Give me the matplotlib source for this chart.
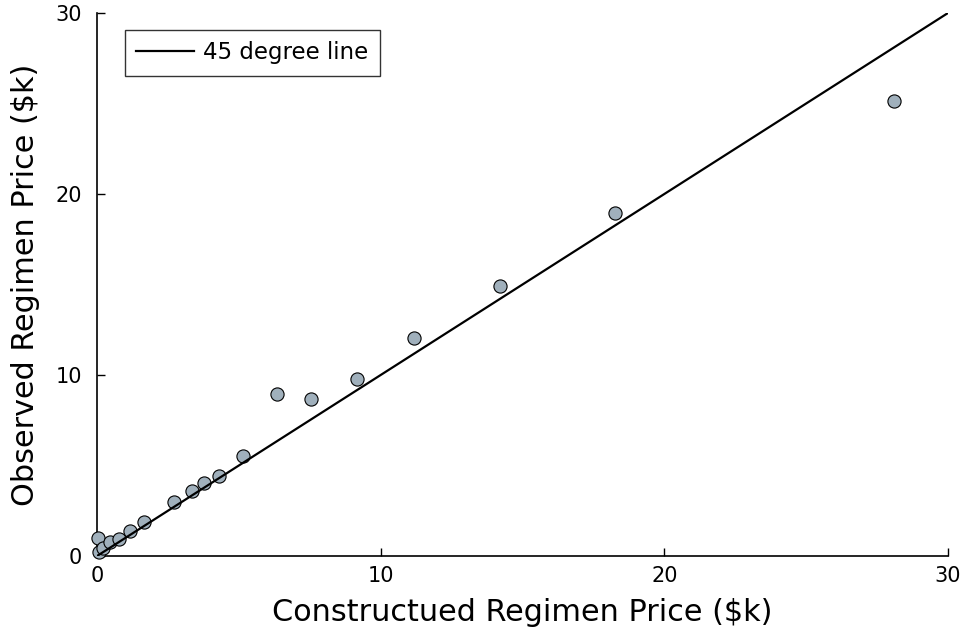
import matplotlib

matplotlib.use("Agg")
import matplotlib.pyplot as plt

constructed = [0.04, 0.07, 0.21, 0.46, 0.78, 1.16, 1.66, 2.71, 3.35, 3.77,
               4.30, 5.15, 6.34, 7.54, 9.16, 11.17, 14.20, 18.26, 28.09]
observed = [0.99, 0.22, 0.44, 0.77, 0.94, 1.38, 1.88, 2.98, 3.59, 4.03,
            4.42, 5.52, 8.95, 8.67, 9.78, 12.04, 14.92, 18.95, 25.14]
line_ends = [0, 30]
ticks = [0, 10, 20, 30]


def main():
    fig = plt.figure(figsize=(9.65, 6.33), dpi=100)
    ax = fig.add_axes([0.1005, 0.1216, 0.8819, 0.8579])

    # the 45 degree line sits on top of the markers
    ax.plot(line_ends, line_ends, color="black", lw=1.6, label="45 degree line",
            zorder=4)
    ax.scatter(constructed, observed, s=90, color="#a0b0bc", edgecolor="black",
               linewidth=0.8, zorder=3, clip_on=False)

    ax.set_xlim(0, 30)
    ax.set_ylim(0, 30)
    ax.set_xticks(ticks)
    ax.set_yticks(ticks)
    ax.tick_params(direction="in", length=6, width=1, labelsize=15)
    ax.tick_params(axis="x", pad=7)
    ax.tick_params(axis="y", pad=11)
    ax.spines["top"].set_visible(False)
    ax.spines["right"].set_visible(False)
    for side in ("left", "bottom"):
        ax.spines[side].set_linewidth(1.2)

    ax.set_xlabel("Constructued Regimen Price ($k)", fontsize=21.8, labelpad=9)
    ax.set_ylabel("Observed Regimen Price ($k)", fontsize=21.8, labelpad=11)

    leg = ax.legend(loc="upper left", bbox_to_anchor=(0.0329, 0.9687),
                    borderaxespad=0, fontsize=16.5, frameon=True,
                    fancybox=False, edgecolor="black", borderpad=0.5,
                    handlelength=2.5, handletextpad=0.4)
    leg.get_frame().set_linewidth(1.0)

    fig.savefig("out.png", dpi=100)


if __name__ == "__main__":
    main()
